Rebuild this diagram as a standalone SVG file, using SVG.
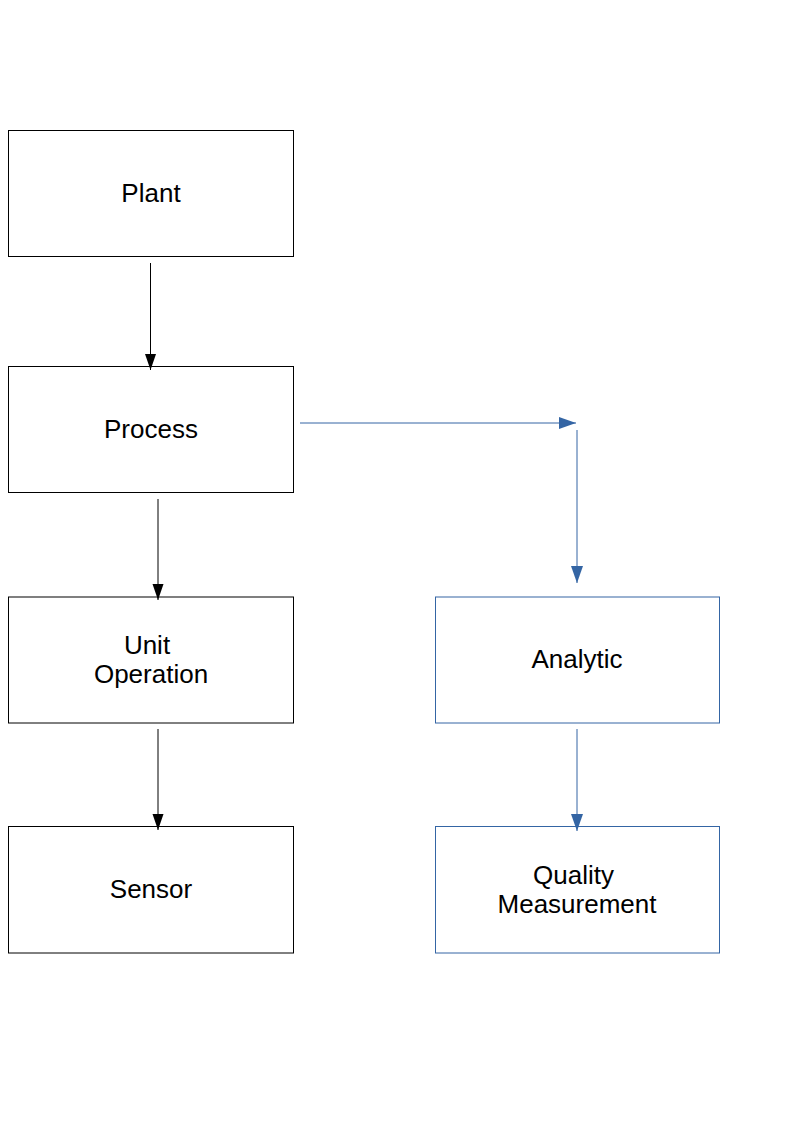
<svg xmlns="http://www.w3.org/2000/svg" width="794" height="1123" viewBox="0 0 794 1123">
<style>
.box{fill:#fff;stroke-width:1}
.k{stroke:#000}
.b{stroke:#3465a4}
.t{font-family:"Liberation Sans",Arial,sans-serif;font-size:26px;fill:#000;text-anchor:middle}
.c{fill:none;stroke-width:1}
</style>
<defs>
<marker id="ak" markerUnits="userSpaceOnUse" markerWidth="16" markerHeight="12" refX="16" refY="6" orient="auto" viewBox="0 0 16 12"><path d="M0,0.5 L16,6 L0,11.5 Z" fill="#000"/></marker>
<marker id="ab" markerUnits="userSpaceOnUse" markerWidth="17" markerHeight="12" refX="17" refY="6" orient="auto" viewBox="0 0 17 12"><path d="M0,0 L17,6 L0,12 Z" fill="#3465a4"/></marker>
</defs>
<g id="plant"><rect class="box k" x="8.5" y="130.5" width="285" height="126"/><text class="t" x="151" y="202">Plant</text></g>
<g id="process"><rect class="box k" x="8.5" y="366.5" width="285" height="126"/><text class="t" x="151" y="438">Process</text></g>
<g id="unit-operation"><rect class="box k" x="8.5" y="597" width="285" height="126"/><text class="t" x="147" y="654">Unit</text><text class="t" x="151" y="683">Operation</text></g>
<g id="sensor"><rect class="box k" x="8.5" y="826.5" width="285" height="126.5"/><text class="t" x="151" y="898">Sensor</text></g>
<g id="analytic"><rect class="box b" x="435.5" y="597" width="284" height="126"/><text class="t" x="577" y="668">Analytic</text></g>
<g id="quality-measurement"><rect class="box b" x="435.5" y="826.5" width="284" height="126.5"/><text class="t" x="573.5" y="884">Quality</text><text class="t" x="577" y="913">Measurement</text></g>
<g id="connectors">
<line class="c k" x1="150.5" y1="263" x2="150.5" y2="370" marker-end="url(#ak)"/>
<line class="c k" x1="158" y1="499" x2="158" y2="600" marker-end="url(#ak)"/>
<line class="c k" x1="158" y1="729" x2="158" y2="830" marker-end="url(#ak)"/>
<line class="c b" x1="300" y1="423" x2="576" y2="423" marker-end="url(#ab)"/>
<line class="c b" x1="577" y1="430" x2="577" y2="583" marker-end="url(#ab)"/>
<line class="c b" x1="577" y1="729" x2="577" y2="831" marker-end="url(#ab)"/>
</g>
</svg>
